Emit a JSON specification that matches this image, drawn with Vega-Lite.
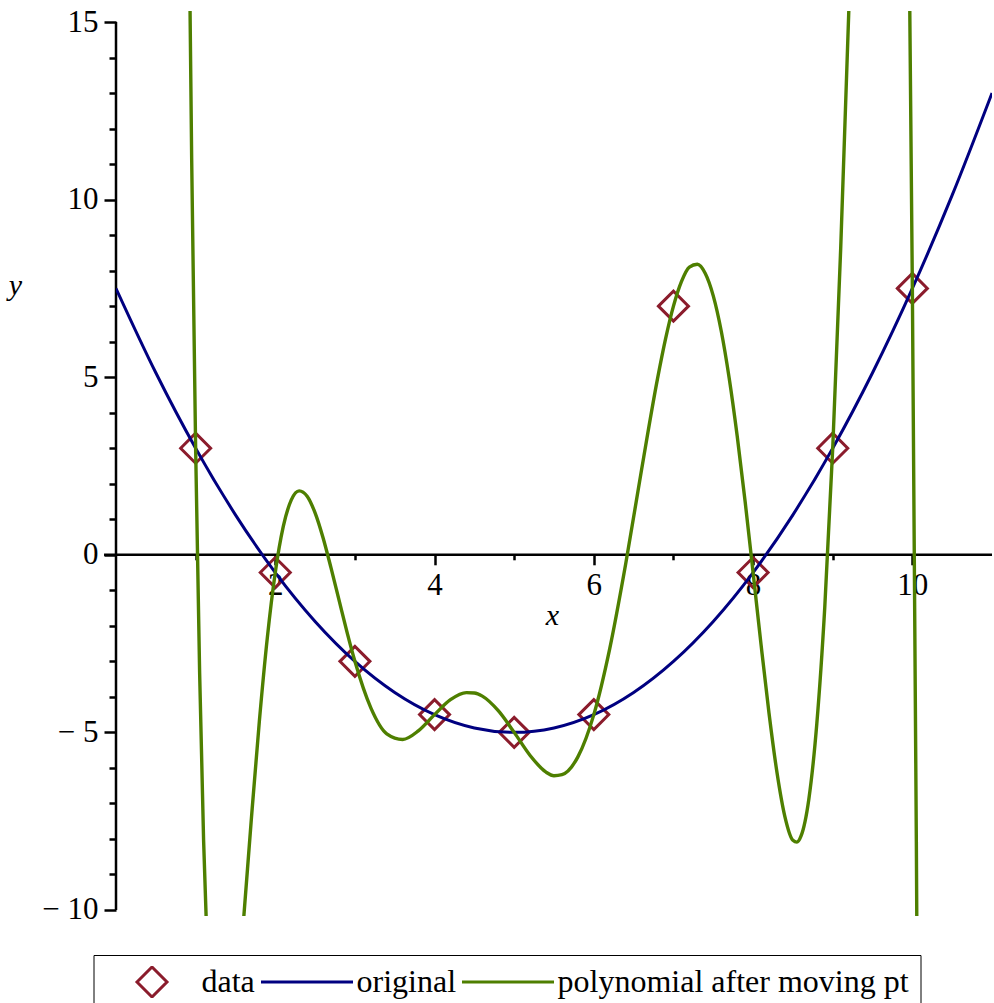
{
  "$schema": "https://vega.github.io/schema/vega-lite/v6.json",
  "width": 876,
  "height": 905,
  "autosize": {"type": "none"},
  "padding": {"left": 116, "top": 11, "right": 2, "bottom": 87},
  "background": "white",
  "config": {"view": {"stroke": null}, "axis": {"grid": false, "labelOverlap": false}, "font": "Liberation Serif"},
  "resolve": {"axis": {"x": "independent", "y": "independent"}},
  "datasets": {
    "pts": [
      {"series": "data", "x": 1, "y": 3}, {"series": "data", "x": 2, "y": -0.5}, {"series": "data", "x": 3, "y": -3},
      {"series": "data", "x": 4, "y": -4.5}, {"series": "data", "x": 5, "y": -5}, {"series": "data", "x": 6, "y": -4.5},
      {"series": "data", "x": 7, "y": 7}, {"series": "data", "x": 8, "y": -0.5}, {"series": "data", "x": 9, "y": 3},
      {"series": "data", "x": 10, "y": 7.5}
    ],
    "orig": [
      {"series": "original", "x": 0, "y": 7.5}, {"series": "original", "x": 0.5, "y": 5.125}, {"series": "original", "x": 1, "y": 3},
      {"series": "original", "x": 1.5, "y": 1.125}, {"series": "original", "x": 2, "y": -0.5}, {"series": "original", "x": 2.5, "y": -1.875},
      {"series": "original", "x": 3, "y": -3}, {"series": "original", "x": 3.5, "y": -3.875}, {"series": "original", "x": 4, "y": -4.5},
      {"series": "original", "x": 4.5, "y": -4.875}, {"series": "original", "x": 5, "y": -5}, {"series": "original", "x": 5.5, "y": -4.875},
      {"series": "original", "x": 6, "y": -4.5}, {"series": "original", "x": 6.5, "y": -3.875}, {"series": "original", "x": 7, "y": -3},
      {"series": "original", "x": 7.5, "y": -1.875}, {"series": "original", "x": 8, "y": -0.5}, {"series": "original", "x": 8.5, "y": 1.125},
      {"series": "original", "x": 9, "y": 3}, {"series": "original", "x": 9.5, "y": 5.125}, {"series": "original", "x": 10, "y": 7.5},
      {"series": "original", "x": 10.5, "y": 10.125}, {"series": "original", "x": 11, "y": 13}
    ],
    "poly": [
      {"series": "polynomial after moving pt", "x": 0.85, "y": 34.4},
      {"series": "polynomial after moving pt", "x": 0.9, "y": 21.5},
      {"series": "polynomial after moving pt", "x": 0.95, "y": 11.18},
      {"series": "polynomial after moving pt", "x": 1.0, "y": 3},
      {"series": "polynomial after moving pt", "x": 1.05, "y": -3.31},
      {"series": "polynomial after moving pt", "x": 1.1, "y": -8.04},
      {"series": "polynomial after moving pt", "x": 1.15, "y": -11.42},
      {"series": "polynomial after moving pt", "x": 1.2, "y": -13.67},
      {"series": "polynomial after moving pt", "x": 1.3, "y": -15.57},
      {"series": "polynomial after moving pt", "x": 1.4, "y": -15.03},
      {"series": "polynomial after moving pt", "x": 1.5, "y": -13.04},
      {"series": "polynomial after moving pt", "x": 1.6, "y": -10.33},
      {"series": "polynomial after moving pt", "x": 1.7, "y": -7.43},
      {"series": "polynomial after moving pt", "x": 1.8, "y": -4.69},
      {"series": "polynomial after moving pt", "x": 1.9, "y": -2.34},
      {"series": "polynomial after moving pt", "x": 2.0, "y": -0.5},
      {"series": "polynomial after moving pt", "x": 2.1, "y": 0.79},
      {"series": "polynomial after moving pt", "x": 2.2, "y": 1.54},
      {"series": "polynomial after moving pt", "x": 2.3, "y": 1.80},
      {"series": "polynomial after moving pt", "x": 2.4, "y": 1.65},
      {"series": "polynomial after moving pt", "x": 2.5, "y": 1.18},
      {"series": "polynomial after moving pt", "x": 2.6, "y": 0.48},
      {"series": "polynomial after moving pt", "x": 2.7, "y": -0.37},
      {"series": "polynomial after moving pt", "x": 2.8, "y": -1.27},
      {"series": "polynomial after moving pt", "x": 2.9, "y": -2.17},
      {"series": "polynomial after moving pt", "x": 3.0, "y": -3},
      {"series": "polynomial after moving pt", "x": 3.2, "y": -4.31},
      {"series": "polynomial after moving pt", "x": 3.4, "y": -5.04},
      {"series": "polynomial after moving pt", "x": 3.6, "y": -5.20},
      {"series": "polynomial after moving pt", "x": 3.8, "y": -4.95},
      {"series": "polynomial after moving pt", "x": 4.0, "y": -4.5},
      {"series": "polynomial after moving pt", "x": 4.2, "y": -4.08},
      {"series": "polynomial after moving pt", "x": 4.4, "y": -3.88},
      {"series": "polynomial after moving pt", "x": 4.5, "y": -3.89},
      {"series": "polynomial after moving pt", "x": 4.6, "y": -3.98},
      {"series": "polynomial after moving pt", "x": 4.8, "y": -4.39},
      {"series": "polynomial after moving pt", "x": 5.0, "y": -5},
      {"series": "polynomial after moving pt", "x": 5.2, "y": -5.65},
      {"series": "polynomial after moving pt", "x": 5.4, "y": -6.12},
      {"series": "polynomial after moving pt", "x": 5.5, "y": -6.22},
      {"series": "polynomial after moving pt", "x": 5.6, "y": -6.19},
      {"series": "polynomial after moving pt", "x": 5.8, "y": -5.69},
      {"series": "polynomial after moving pt", "x": 6.0, "y": -4.5},
      {"series": "polynomial after moving pt", "x": 6.2, "y": -2.64},
      {"series": "polynomial after moving pt", "x": 6.4, "y": -0.26},
      {"series": "polynomial after moving pt", "x": 6.6, "y": 2.40},
      {"series": "polynomial after moving pt", "x": 6.8, "y": 4.96},
      {"series": "polynomial after moving pt", "x": 6.9, "y": 6.07},
      {"series": "polynomial after moving pt", "x": 7.0, "y": 7},
      {"series": "polynomial after moving pt", "x": 7.1, "y": 7.69},
      {"series": "polynomial after moving pt", "x": 7.2, "y": 8.10},
      {"series": "polynomial after moving pt", "x": 7.3, "y": 8.18},
      {"series": "polynomial after moving pt", "x": 7.4, "y": 7.92},
      {"series": "polynomial after moving pt", "x": 7.5, "y": 7.29},
      {"series": "polynomial after moving pt", "x": 7.6, "y": 6.30},
      {"series": "polynomial after moving pt", "x": 7.7, "y": 4.97},
      {"series": "polynomial after moving pt", "x": 7.8, "y": 3.35},
      {"series": "polynomial after moving pt", "x": 7.9, "y": 1.50},
      {"series": "polynomial after moving pt", "x": 8.0, "y": -0.5},
      {"series": "polynomial after moving pt", "x": 8.1, "y": -2.53},
      {"series": "polynomial after moving pt", "x": 8.2, "y": -4.46},
      {"series": "polynomial after moving pt", "x": 8.3, "y": -6.13},
      {"series": "polynomial after moving pt", "x": 8.4, "y": -7.38},
      {"series": "polynomial after moving pt", "x": 8.5, "y": -8.04},
      {"series": "polynomial after moving pt", "x": 8.55, "y": -8.09},
      {"series": "polynomial after moving pt", "x": 8.6, "y": -7.93},
      {"series": "polynomial after moving pt", "x": 8.7, "y": -6.88},
      {"series": "polynomial after moving pt", "x": 8.8, "y": -4.76},
      {"series": "polynomial after moving pt", "x": 8.9, "y": -1.48},
      {"series": "polynomial after moving pt", "x": 9.0, "y": 3},
      {"series": "polynomial after moving pt", "x": 9.1, "y": 8.62},
      {"series": "polynomial after moving pt", "x": 9.2, "y": 15.19},
      {"series": "polynomial after moving pt", "x": 9.3, "y": 22.39},
      {"series": "polynomial after moving pt", "x": 9.6, "y": 41.1},
      {"series": "polynomial after moving pt", "x": 9.9, "y": 28.66},
      {"series": "polynomial after moving pt", "x": 9.95, "y": 19.59},
      {"series": "polynomial after moving pt", "x": 10.0, "y": 7.5},
      {"series": "polynomial after moving pt", "x": 10.05, "y": -8.08},
      {"series": "polynomial after moving pt", "x": 10.1, "y": -27.69}
    ]
  },
  "layer": [
    {
      "data": {"name": "pts"},
      "mark": {"type": "point", "filled": false, "strokeWidth": 3, "size": 8464, "opacity": 1},
      "encoding": {
        "x": {
          "field": "x", "type": "quantitative",
          "scale": {"domain": [0, 11], "nice": false, "zero": false},
          "axis": {
            "orient": "bottom", "offset": -361.2, "domain": false, "grid": false,
            "values": [2, 4, 6, 8, 10],
            "tickColor": "black", "tickWidth": 2.5, "tickSize": 10,
            "labelExpr": "'' + datum.value",
            "labelFont": "Liberation Serif", "labelFontSize": 31, "labelColor": "black",
            "labelPadding": 6, "labelOverlap": false, "labelFlush": false, "labelBound": false,
            "title": "x", "titleFont": "Liberation Serif", "titleFontSize": 30, "titleFontStyle": "italic",
            "titleFontWeight": "normal", "titleColor": "black", "titleX": 436, "titleY": 70,
            "titleBaseline": "alphabetic", "titleAlign": "center"
          }
        },
        "y": {
          "field": "y", "type": "quantitative",
          "scale": {"domain": [-10.17, 15.31], "nice": false, "zero": false},
          "axis": {
            "orient": "left", "domain": false, "grid": false,
            "values": [-10, -5, 0, 5, 10, 15],
            "tickColor": "black", "tickWidth": 2.5, "tickSize": 12,
            "labelExpr": "datum.value < 0 ? '\u2212 ' + abs(datum.value) : '' + datum.value",
            "labelFont": "Liberation Serif", "labelFontSize": 31, "labelColor": "black",
            "labelPadding": 6, "labelOverlap": false, "labelFlush": false, "labelBound": false,
            "title": "y", "titleFont": "Liberation Serif", "titleFontSize": 30, "titleFontStyle": "italic",
            "titleFontWeight": "normal", "titleColor": "black", "titleAngle": 0, "titleX": -101, "titleY": 283,
            "titleBaseline": "alphabetic", "titleAlign": "center"
          }
        },
        "color": {
          "field": "series", "type": "nominal",
          "scale": {"domain": ["data", "original", "polynomial after moving pt"], "range": ["#8b1c2c", "#000080", "#4e7f00"]},
          "legend": {
            "orient": "none", "legendX": -22.5, "legendY": 944, "direction": "horizontal", "columns": 3,
            "title": null, "symbolSize": 8464, "symbolStrokeWidth": 3, "clipHeight": 32,
            "labelFont": "Liberation Serif", "labelFontSize": 32, "labelColor": "black", "labelOffset": 2,
            "labelLimit": 600, "columnPadding": 4, "padding": 11, "strokeColor": "black",
            "fillColor": "white", "symbolOffset": 0
          }
        },
        "shape": {
          "field": "series", "type": "nominal",
          "scale": {"domain": ["data", "original", "polynomial after moving pt"], "range": ["M-0.326,0L0,-0.326L0.326,0L0,0.326Z", "M-1,0L1,0", "M-1,0L1,0"]},
          "legend": {
            "orient": "none", "legendX": -22.5, "legendY": 944, "direction": "horizontal", "columns": 3,
            "title": null, "symbolSize": 8464, "symbolStrokeWidth": 3, "clipHeight": 32,
            "labelFont": "Liberation Serif", "labelFontSize": 32, "labelColor": "black", "labelOffset": 2,
            "labelLimit": 600, "columnPadding": 4, "padding": 11, "strokeColor": "black",
            "fillColor": "white", "symbolOffset": 0
          }
        }
      }
    },
    {
      "data": {"values": [{}]},
      "mark": {"type": "rule", "strokeWidth": 2.5, "color": "black", "clip": false},
      "encoding": {
        "x": {
          "datum": 0, "type": "quantitative",
          "axis": {
            "orient": "bottom", "offset": -361.2, "domain": false, "grid": false,
            "values": [1, 3, 5, 7, 9],
            "tickColor": "black", "tickWidth": 2.5, "tickSize": 5,
            "labels": false, "title": null
          }
        },
        "y": {
          "datum": -10, "type": "quantitative",
          "axis": {
            "orient": "left", "domain": false, "grid": false,
            "values": [-9, -8, -7, -6, -4, -3, -2, -1, 1, 2, 3, 4, 6, 7, 8, 9, 11, 12, 13, 14],
            "tickColor": "black", "tickWidth": 2.5, "tickSize": 7,
            "labels": false, "title": null
          }
        },
        "y2": {"datum": 15}
      }
    },
    {
      "data": {"values": [{}]},
      "mark": {"type": "rule", "strokeWidth": 2.5, "color": "black", "clip": false},
      "encoding": {
        "x": {"datum": -0.15, "type": "quantitative", "axis": null},
        "x2": {"datum": 11},
        "y": {"datum": 0, "type": "quantitative", "axis": null}
      }
    },
    {
      "data": {"name": "orig"},
      "mark": {"type": "line", "strokeWidth": 3, "clip": true, "interpolate": "monotone"},
      "encoding": {
        "x": {"field": "x", "type": "quantitative", "axis": null},
        "y": {"field": "y", "type": "quantitative", "axis": null},
        "color": {"field": "series", "type": "nominal"}
      }
    },
    {
      "data": {"name": "poly"},
      "mark": {"type": "line", "strokeWidth": 3.4, "clip": true, "interpolate": "monotone"},
      "encoding": {
        "x": {"field": "x", "type": "quantitative", "axis": null},
        "y": {"field": "y", "type": "quantitative", "axis": null},
        "color": {"field": "series", "type": "nominal"}
      }
    }
  ]
}
